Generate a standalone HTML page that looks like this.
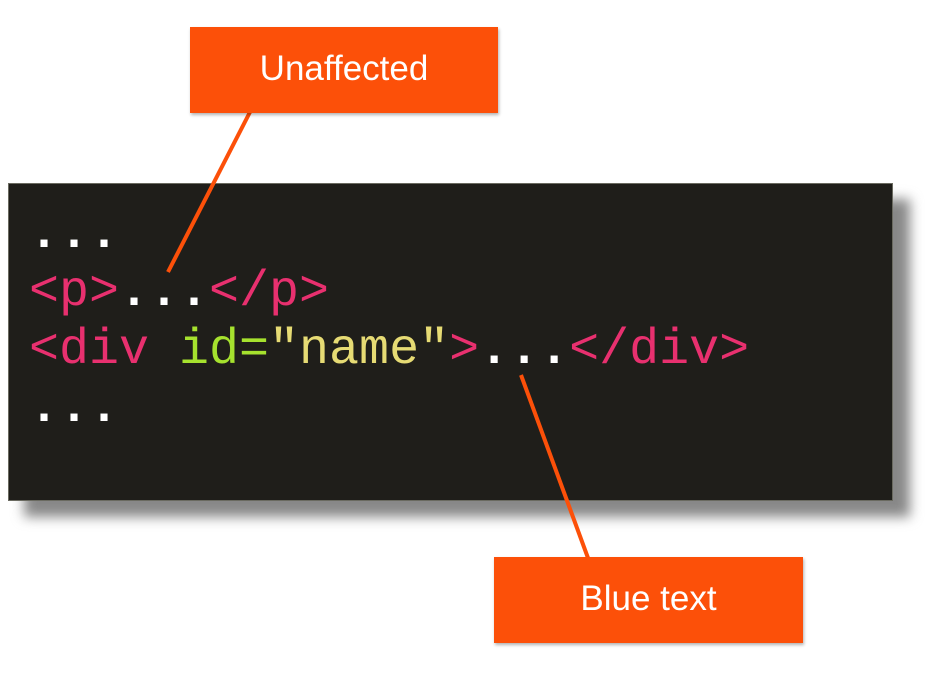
<!DOCTYPE html>
<html><head><style>
body{margin:0;width:932px;height:674px;background:#fff;position:relative;overflow:hidden;font-family:"Liberation Sans",sans-serif}
.shadow{position:absolute;left:24px;top:199px;width:886px;height:318px;background:#888;filter:blur(6px)}
.code{position:absolute;left:8px;top:183px;width:883px;height:316px;background:#1f1e1a;border:1px solid #6a6a60}
.code pre{margin:0;position:absolute;left:20px;top:22px;font-family:"Liberation Mono",monospace;font-size:50px;line-height:58px;color:#fff}
.d{font-weight:bold}
.pk{color:#e8306f}.gr{color:#a6e22e}.ye{color:#e6db74}
.tag{position:absolute;background:#fc5009;color:#fff;font-size:35px;text-align:center;box-shadow:1px 2px 3px rgba(0,0,0,.3)}
</style></head><body>
<div class="shadow"></div>
<div class="code"><pre><span class="d">...</span>
<span class="pk">&lt;p&gt;</span><span class="d">...</span><span class="pk">&lt;/p&gt;</span>
<span class="pk">&lt;div </span><span class="gr">id=</span><span class="ye">"name"</span><span class="pk">&gt;</span><span class="d">...</span><span class="pk">&lt;/div&gt;</span>
<span class="d">...</span></pre></div>
<svg style="position:absolute;left:0;top:0" width="932" height="674"><line x1="250" y1="112" x2="168" y2="272" stroke="#fc5009" stroke-width="4"/><line x1="521" y1="375" x2="588" y2="558" stroke="#fc5009" stroke-width="4"/></svg>
<div class="tag" style="left:190px;top:27px;width:308px;height:86px;line-height:84px">Unaffected</div>
<div class="tag" style="left:494px;top:557px;width:309px;height:86px;line-height:84px">Blue text</div>
</body></html>
